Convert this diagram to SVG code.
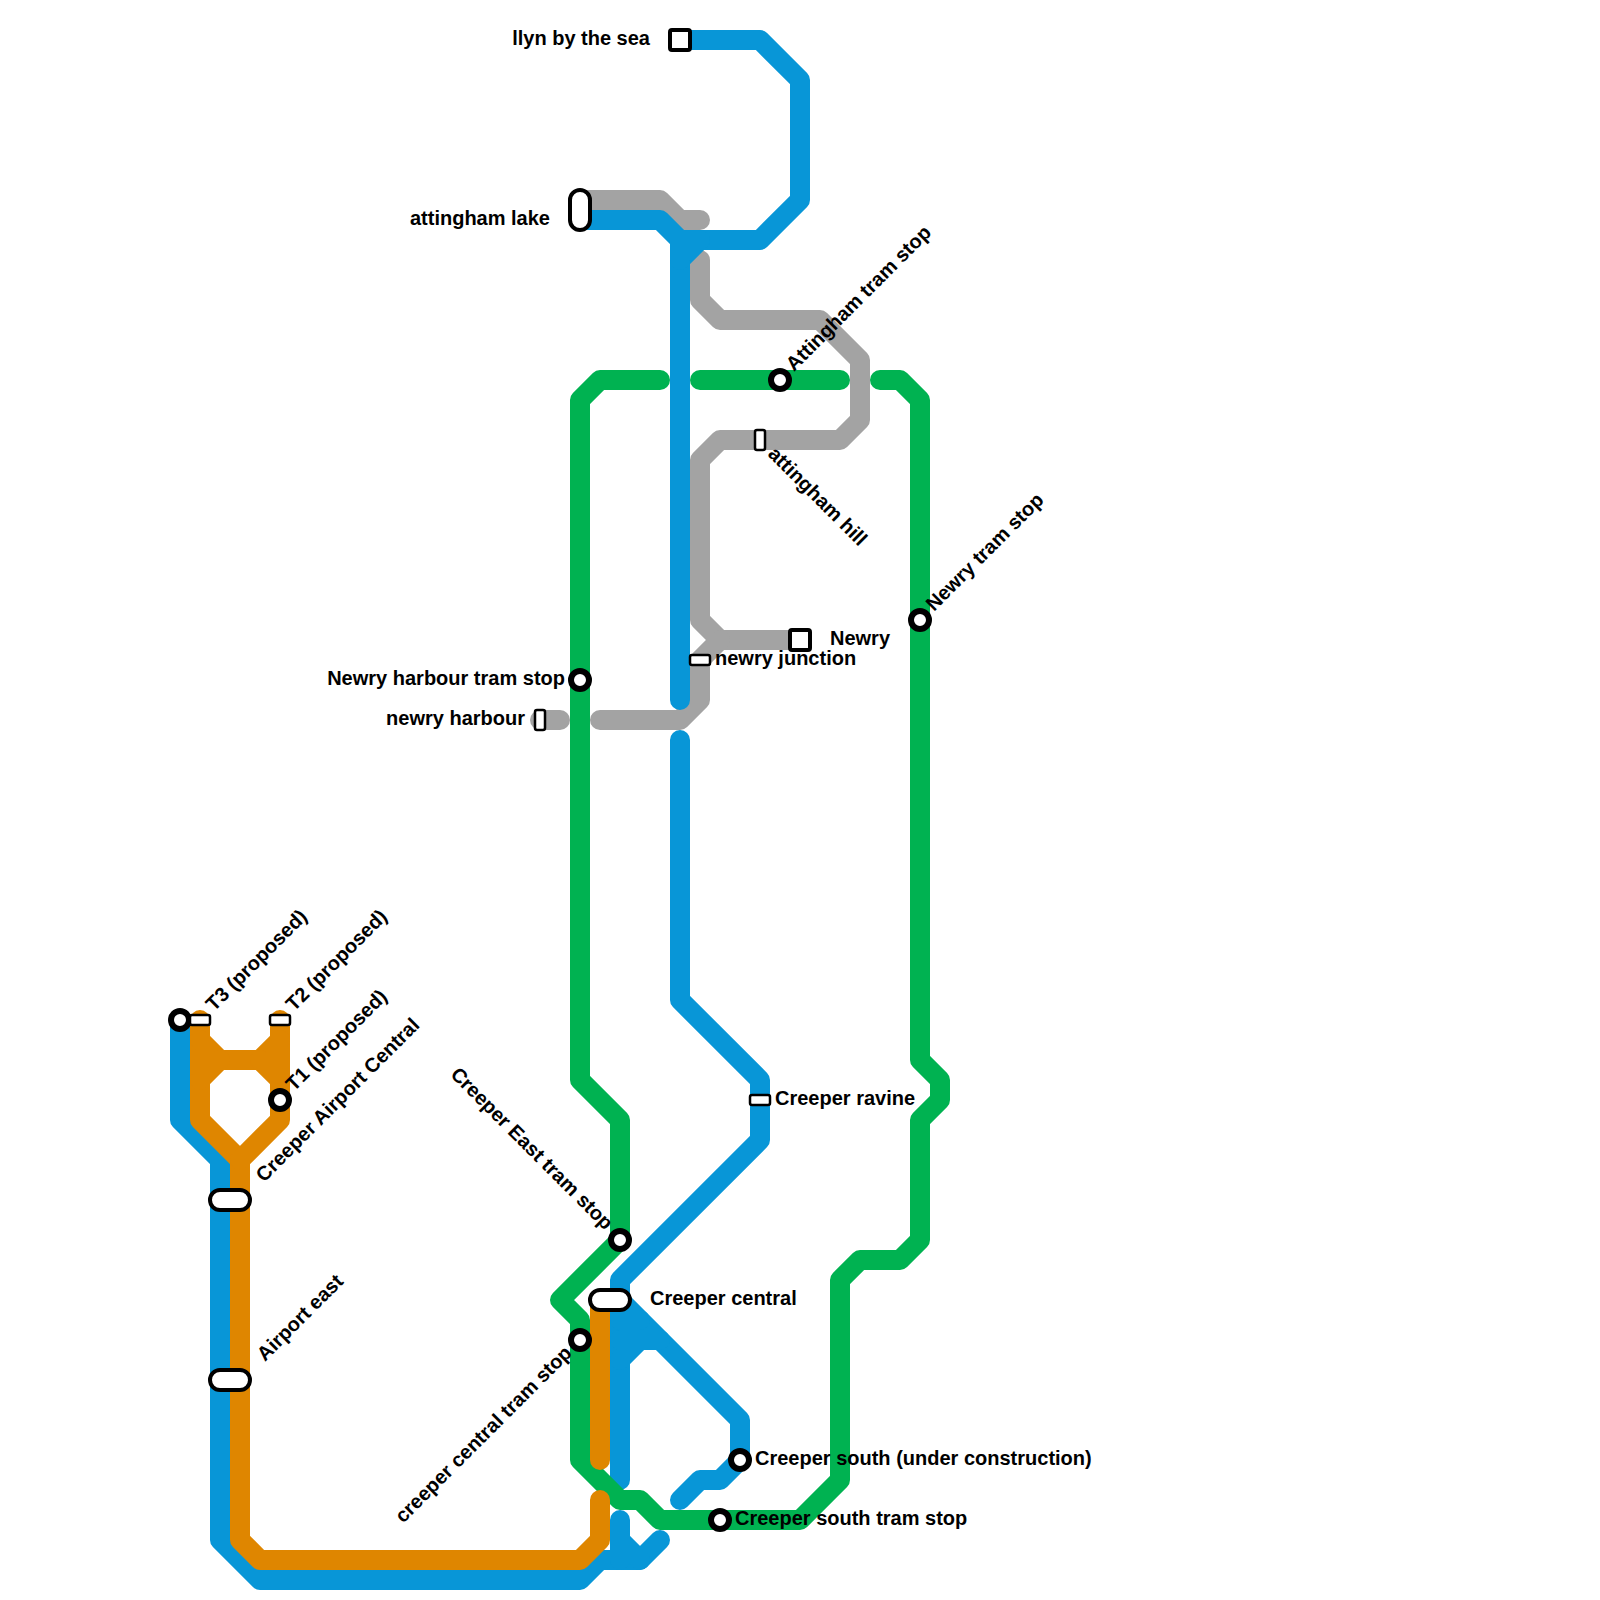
<svg xmlns="http://www.w3.org/2000/svg" width="1600" height="1600" viewBox="0 0 1600 1600">
<style>
.l{fill:none;stroke-width:20;stroke-linecap:round;stroke-linejoin:round}
.gy{stroke:#a3a3a3}.bl{stroke:#0896d7}.gn{stroke:#00b251}.or{stroke:#df8600}
.c{fill:#fff;stroke:#000;stroke-width:6}
.r{fill:#fff;stroke:#000;stroke-width:4}
.s{fill:#fff;stroke:#000;stroke-width:2.5}
text{font-family:"Liberation Sans",Arial,sans-serif;font-weight:700;font-size:20px;fill:#000}
.e{text-anchor:end}
</style>
<rect width="1600" height="1600" fill="#fff"/>
<g id="connectors">
<path class="l gy" d="M580 200H660L680 220H700"/>
<path class="l gy" d="M700 260V300L720 320H820L860 360V420L840 440H720L700 460V620L720 640H800"/>
<path class="l gy" d="M720 640L700 660V700L680 720H600"/>
<path class="l gy" d="M540 720H560"/>
<path class="l bl" d="M680 40H760L800 80V200L760 240H700L680 260V700"/>
<path class="l bl" d="M580 220H660L680 240V260M680 240H700"/>
<path class="l bl" d="M680 740V1000L760 1080V1140L620 1280V1480"/>
<path class="l bl" d="M620 1300L740 1420V1460L720 1480H700L680 1500"/>
<path class="l bl" d="M620 1360L640 1340H660M620 1340H640M620 1320H640"/>
<path class="l bl" d="M180 1020V1120L220 1160V1540L260 1580H580L600 1560H640L660 1540"/>
<path class="l bl" d="M620 1520V1560M620 1540L640 1560"/>
<path class="l gn" d="M660 380H600L580 400V1080L620 1120V1240L560 1300L580 1320V1460L620 1500H640L660 1520H800L840 1480V1280L860 1260H900L920 1240V1120L940 1100V1080L920 1060V400L900 380H880"/>
<path class="l gn" d="M700 380H840"/>
<path class="l or" d="M600 1300V1460"/>
<path class="l or" d="M600 1500V1540L580 1560H260L240 1540V1160L200 1120V1020"/>
<path class="l or" d="M240 1160L280 1120V1020"/>
<path class="l or" d="M200 1040L220 1060H260L280 1040"/>
<path class="l or" d="M200 1080L220 1060M260 1060L280 1080"/>
</g>
<g id="llyn"><rect class="r" x="670" y="30" width="20" height="20" rx="2"/><text class="e" x="650" y="45">llyn by the sea</text></g>
<g id="attingham-lake"><rect class="r" x="570" y="190" width="20" height="40" rx="10"/><text class="e" x="550" y="225">attingham lake</text></g>
<g id="attingham-tram"><circle class="c" cx="780" cy="380" r="9"/><text transform="translate(794 372) rotate(-45)">Attingham tram stop</text></g>
<g id="attingham-hill"><rect class="s" x="755" y="430" width="10" height="20" rx="2"/><text transform="translate(767 455) rotate(45)">attingham hill</text></g>
<g id="newry"><rect class="r" x="790" y="630" width="20" height="20" rx="2"/><text x="830" y="645">Newry</text></g>
<g id="newry-junction"><rect class="s" x="690" y="655" width="20" height="10" rx="2"/><text x="715" y="665">newry junction</text></g>
<g id="newry-tram"><circle class="c" cx="920" cy="620" r="9"/><text transform="translate(934 612) rotate(-45)">Newry tram stop</text></g>
<g id="newry-harbour-tram"><circle class="c" cx="580" cy="680" r="9"/><text class="e" x="565" y="685">Newry harbour tram stop</text></g>
<g id="newry-harbour"><rect class="s" x="535" y="710" width="10" height="20" rx="2"/><text class="e" x="525" y="725">newry harbour</text></g>
<g id="t3-tram"><circle class="c" cx="180" cy="1020" r="9"/></g>
<g id="t3"><rect class="s" x="190" y="1015" width="20" height="10" rx="2"/><text transform="translate(214 1012) rotate(-45)">T3 (proposed)</text></g>
<g id="t2"><rect class="s" x="270" y="1015" width="20" height="10" rx="2"/><text transform="translate(294 1012) rotate(-45)">T2 (proposed)</text></g>
<g id="t1"><circle class="c" cx="280" cy="1100" r="9"/><text transform="translate(294 1092) rotate(-45)">T1 (proposed)</text></g>
<g id="airport-central"><rect class="r" x="210" y="1190" width="40" height="20" rx="10"/><text transform="translate(264 1183) rotate(-45)">Creeper Airport Central</text></g>
<g id="airport-east"><rect class="r" x="210" y="1370" width="40" height="20" rx="10"/><text transform="translate(265 1362) rotate(-45)">Airport east</text></g>
<g id="creeper-ravine"><rect class="s" x="750" y="1095" width="20" height="10" rx="2"/><text x="775" y="1105">Creeper ravine</text></g>
<g id="creeper-east"><circle class="c" cx="620" cy="1240" r="9"/><text class="e" transform="translate(605 1231) rotate(45)">Creeper East tram stop</text></g>
<g id="creeper-central"><rect class="r" x="590" y="1290" width="40" height="20" rx="10"/><text x="650" y="1305">Creeper central</text></g>
<g id="creeper-central-tram"><circle class="c" cx="580" cy="1340" r="9"/><text class="e" transform="translate(573 1354) rotate(-45)">creeper central tram stop</text></g>
<g id="creeper-south"><circle class="c" cx="740" cy="1460" r="9"/><text x="755" y="1465">Creeper south (under construction)</text></g>
<g id="creeper-south-tram"><circle class="c" cx="720" cy="1520" r="9"/><text x="735" y="1525">Creeper south tram stop</text></g>
</svg>
